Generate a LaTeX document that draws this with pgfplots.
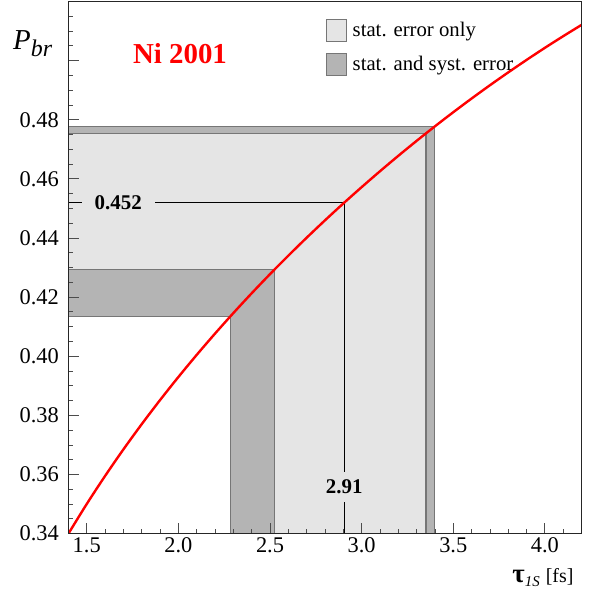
\documentclass[border=0pt]{standalone}
\usepackage{fontspec}
\setmainfont{Liberation Serif}
\usepackage{pgfplots}
\pgfplotsset{compat=1.18}
\definecolor{lightc}{RGB}{229,229,229}
\definecolor{darkc}{RGB}{180,180,180}
\definecolor{edgec}{RGB}{118,118,118}
\begin{document}
\begin{tikzpicture}
\begin{axis}[
  scale only axis,
  width=513.2bp, height=532.2bp,
  xmin=1.4, xmax=4.2, ymin=0.34, ymax=0.52,
  axis on top,
  clip mode=individual,
  axis line style={line width=1.1bp, black!85},
  tick align=inside,
  xtick pos=bottom, ytick pos=left,
  xtick={1.5,2.0,2.5,3.0,3.5,4.0},
  minor xtick={1.4,1.5,...,4.2},
  ytick={0.34,0.36,0.38,0.40,0.42,0.44,0.46,0.48,0.50},
  yticklabels={0.34,0.36,0.38,0.40,0.42,0.44,0.46,0.48,},
  minor ytick={0.345,0.35,...,0.516},
  major tick length=10.5bp, minor tick length=5bp,
  every tick/.style={black!70, line width=0.9bp},
  /pgf/number format/assume math mode=true,
  xticklabel style={font=\fontsize{22.5}{22.5}\selectfont, /pgf/number format/.cd, fixed, fixed zerofill, precision=1},
  yticklabel style={font=\fontsize{22.5}{22.5}\selectfont, xshift=-6bp},
  legend style={at={(rel axis cs:0.5014,0.9671)}, anchor=north west, draw=none, fill=none,
    inner sep=0pt, outer sep=0pt, font=\fontsize{20.8}{20.8}\selectfont, row sep=10.5bp,
    nodes={inner sep=0pt}, column sep=6bp, cells={anchor=west}},
  legend image code/.code={\draw[#1] (0bp,-11bp) rectangle (20bp,11bp);},
]
% legend entries
\addlegendimage{fill=lightc, draw=edgec, line width=1bp}
\addlegendentry{stat. error only}
\addlegendimage{fill=darkc, draw=edgec, line width=1bp}
\addlegendentry{stat. and syst. error}
% error bands
\addplot[fill=darkc, draw=edgec, line width=1.1bp, forget plot] coordinates {(1.4,0.34) (3.396,0.34) (3.396,0.4776) (1.4,0.4776)} -- cycle;
\addplot[fill=lightc, draw=edgec, line width=1.1bp, forget plot] coordinates {(1.4,0.34) (3.351,0.34) (3.351,0.4755) (1.4,0.4755)} -- cycle;
\addplot[fill=darkc, draw=edgec, line width=1.1bp, forget plot] coordinates {(1.4,0.34) (2.525,0.34) (2.525,0.4295) (1.4,0.4295)} -- cycle;
\addplot[fill=white, draw=edgec, line width=1.1bp, forget plot] coordinates {(1.4,0.34) (2.285,0.34) (2.285,0.4136) (1.4,0.4136)} -- cycle;
% central value lines
\addplot[black, line width=1.1bp, forget plot] coordinates {(1.4,0.452) (2.905,0.452) (2.905,0.34)};
\node[fill=lightc, inner xsep=13bp, inner ysep=4bp, font=\fontsize{21}{21}\selectfont\bfseries] at (axis cs:1.672,0.452) {0.452};
\node[fill=lightc, inner xsep=4bp, inner ysep=7.5bp, font=\fontsize{21}{21}\selectfont\bfseries] at (axis cs:2.905,0.3558) {2.91};
% curve
\addplot[red, line width=2.4bp, smooth, forget plot] coordinates {
(1.4,0.3400) (1.5,0.35004) (1.6,0.35952) (1.7,0.36850) (1.8,0.37704) (1.9,0.38519)
(2.0,0.39299) (2.1,0.40048) (2.2,0.40768) (2.3,0.41462) (2.4,0.42132) (2.5,0.42779)
(2.6,0.43405) (2.7,0.44011) (2.8,0.44599) (2.9,0.45169) (3.0,0.45722) (3.1,0.46259)
(3.2,0.46781) (3.3,0.47287) (3.4,0.47779) (3.5,0.48256) (3.6,0.48719) (3.7,0.49168)
(3.8,0.49603) (3.9,0.50025) (4.0,0.50434) (4.1,0.50828) (4.2,0.51210)};
% texts
\node[red, font=\fontsize{29}{29}\selectfont\bfseries] at (rel axis cs:0.2175,0.9014) {Ni 2001};
\node[anchor=base west, inner sep=0pt, font=\fontsize{29}{29}\selectfont] at (rel axis cs:-0.108,0.9089) {\textit{P}\raisebox{-7bp}{\fontsize{24}{24}\selectfont\textit{br}}};
\node[anchor=base east, inner sep=0pt] at (rel axis cs:0.9845,-0.0925) {{\fontsize{27}{27}\selectfont\textbf{τ}}\raisebox{-4bp}{\fontsize{15}{15}\selectfont\textit{1S}}\hspace{6bp}{\fontsize{20}{20}\selectfont[fs]}};
\coordinate (O) at (rel axis cs:0,0);
\end{axis}
\pgfresetboundingbox
\path (O) ++(-68.4bp,-59.3bp) rectangle ++(596bp,593bp);
\end{tikzpicture}
\end{document}
